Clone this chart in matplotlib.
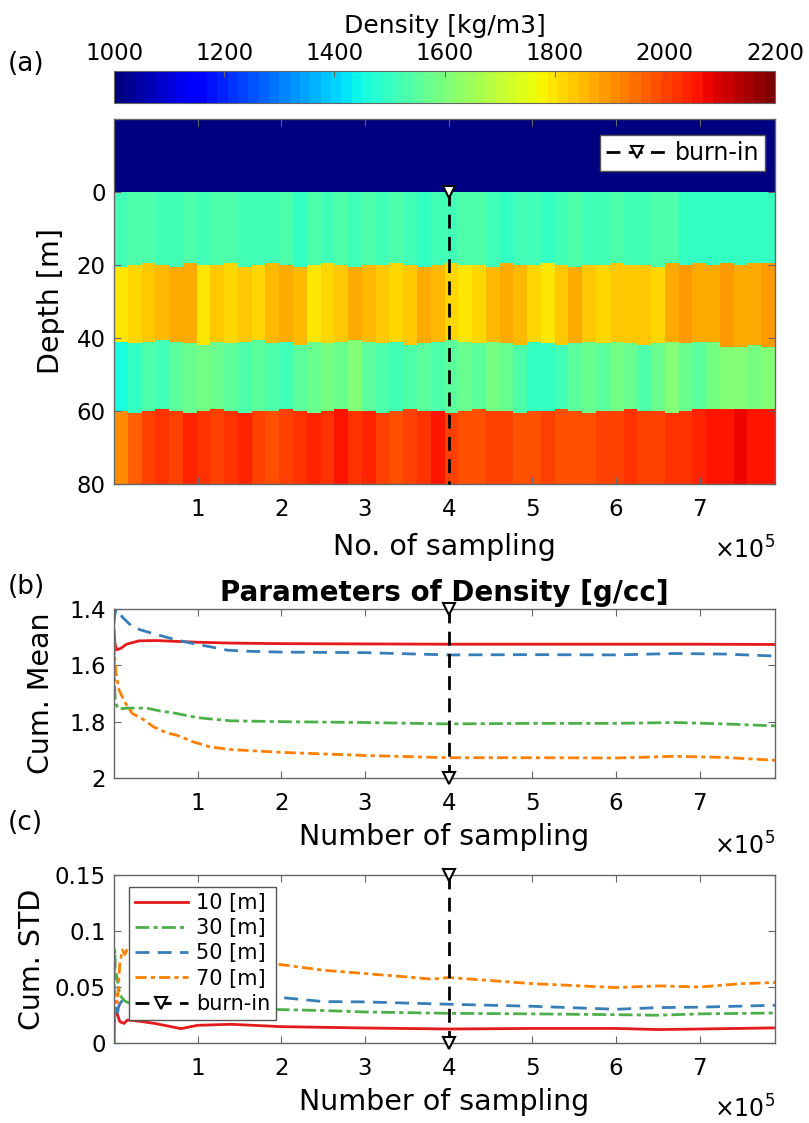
import numpy as np
import matplotlib
matplotlib.use("Agg")
import matplotlib.pyplot as plt

plt.rcParams["font.family"] = ["DejaVu Sans"]
plt.rcParams["mathtext.fontset"] = "dejavusans"

# ---- panel (a): density model per layer, read along the chain (48 chunks) ----
n_total = 790000
air_density = 1000
layer1 = [1515, 1540, 1525, 1510, 1520, 1535, 1515, 1525, 1540, 1520, 1510, 1515, 1525, 1505, 1535, 1520,
          1540, 1515, 1525, 1510, 1535, 1515, 1505, 1520, 1515, 1540, 1525, 1510, 1505, 1520, 1515, 1500,
          1510, 1535, 1520, 1515, 1525, 1510, 1520, 1535, 1540, 1505, 1495, 1500, 1490, 1505, 1495, 1500]
layer2 = [1790, 1810, 1830, 1845, 1870, 1880, 1800, 1840, 1820, 1830, 1815, 1850, 1870, 1860, 1800, 1810,
          1830, 1875, 1860, 1830, 1815, 1840, 1870, 1860, 1810, 1795, 1820, 1855, 1870, 1860, 1820, 1795,
          1840, 1870, 1830, 1810, 1825, 1840, 1830, 1820, 1870, 1885, 1880, 1870, 1890, 1875, 1880, 1885]
layer3 = [1450, 1500, 1530, 1520, 1560, 1580, 1590, 1570, 1550, 1530, 1560, 1540, 1520, 1550, 1580, 1590,
          1570, 1600, 1560, 1530, 1520, 1540, 1560, 1530, 1550, 1580, 1560, 1590, 1570, 1540, 1500, 1490,
          1520, 1550, 1580, 1560, 1590, 1570, 1540, 1580, 1600, 1580, 1560, 1590, 1600, 1610, 1590, 1600]
layer4 = [1910, 1970, 2000, 2030, 2010, 2040, 2020, 2000, 2030, 2040, 2010, 1990, 2000, 2020, 2040, 2020,
          2050, 2030, 2040, 2010, 1990, 2000, 2030, 2050, 2000, 1990, 1980, 2000, 2010, 1990, 1980, 2000,
          1990, 1980, 1990, 2010, 2000, 2020, 2010, 2000, 2030, 2020, 2040, 2050, 2060, 2070, 2060, 2050]
# sampled interface depths [m] for the same chunks
top2 = [20.5, 20, 19.5, 20, 20.5, 19.5, 20, 20, 19.5, 20.5, 20, 19.5, 20, 20.5, 20, 19.5,
        20, 20.5, 20, 20, 19.5, 20, 20.5, 20, 19.5, 20, 20, 20.5, 19.5, 20, 20, 19.5,
        20, 20.5, 20, 20, 19.5, 20, 20, 20.5, 19.5, 20, 19.5, 20, 19.5, 20, 19.5, 19.5]
bottom2 = [41, 41.5, 41, 40.5, 41, 41.5, 42, 41, 41.5, 41, 40.5, 41.5, 41, 42, 41, 41.5,
           41, 40.5, 41, 41.5, 41, 42, 41.5, 41, 40.5, 41, 41.5, 41, 41.5, 42, 41, 41.5,
           42, 41.5, 41, 41.5, 41, 41.5, 42, 41.5, 41, 41.5, 41, 41, 42.5, 42.5, 42, 42.5]
top4 = [60, 60.5, 60, 59.5, 60, 60.5, 60, 59.5, 60, 60.5, 60, 60, 59.5, 60, 60.5, 60,
        59.5, 60, 60, 60.5, 60, 59.5, 60, 60, 60.5, 60, 59.5, 60, 60, 60.5, 60, 60,
        59.5, 60, 60.5, 60, 60, 59.5, 60, 60, 60.5, 60, 59.5, 59.5, 59.5, 59.5, 59.5, 59.5]

burn_in = 400000

# ---- panel (b): cumulative mean [g/cc], x in units of 1e5 samples ----
red_b_x = [0, 0.01, 0.03, 0.08, 0.15, 0.3, 0.5, 0.75, 1.0, 1.4, 2, 3, 4, 5, 6, 7, 7.9]
red_b = [1.475, 1.52, 1.545, 1.54, 1.525, 1.513, 1.512, 1.515, 1.518, 1.521, 1.523, 1.524, 1.525,
         1.525, 1.525, 1.525, 1.526]
green_b_x = [0, 0.005, 0.015, 0.05, 0.15, 0.39, 0.55, 0.75, 1.0, 1.4, 2, 3, 4, 5, 6, 6.7, 7.3, 7.9]
green_b = [1.485, 1.65, 1.73, 1.755, 1.752, 1.752, 1.762, 1.771, 1.786, 1.797, 1.800, 1.803, 1.808,
           1.806, 1.806, 1.803, 1.808, 1.815]
blue_b_x = [0, 0.01, 0.025, 0.11, 0.23, 0.35, 0.5, 0.75, 1.0, 1.15, 1.35, 1.6, 2, 3, 4, 5, 6, 6.7, 7.3, 7.9]
blue_b = [1.45, 1.42, 1.40, 1.432, 1.466, 1.477, 1.49, 1.51, 1.526, 1.534, 1.546, 1.55, 1.553, 1.555,
          1.563, 1.562, 1.563, 1.558, 1.56, 1.567]
orange_b_x = [0, 0.005, 0.024, 0.06, 0.14, 0.22, 0.35, 0.47, 0.63, 0.75, 0.95, 1.15, 1.4, 2, 3, 4, 5, 6,
              6.7, 7.3, 7.9]
orange_b = [1.515, 1.56, 1.628, 1.688, 1.736, 1.771, 1.792, 1.818, 1.84, 1.848, 1.872, 1.89, 1.899, 1.909,
            1.92, 1.928, 1.928, 1.929, 1.923, 1.927, 1.937]

# ---- panel (c): cumulative std [g/cc] ----
red_c_x = [0, 0.005, 0.016, 0.07, 0.12, 0.16, 0.25, 0.5, 0.8, 1.0, 1.4, 2, 3, 4, 5, 6, 6.5, 7, 7.9]
red_c = [0, 0.02, 0.031, 0.019, 0.0175, 0.0205, 0.02, 0.0173, 0.0128, 0.0158, 0.0167, 0.0146, 0.0134,
         0.0125, 0.013, 0.013, 0.012, 0.0125, 0.0135]
green_c_x = [0, 0.01, 0.02, 0.03, 0.07, 0.12, 0.17, 0.5, 1.0, 1.5, 2, 2.5, 3, 4, 5, 6, 6.5, 7, 7.9]
green_c = [0.04, 0.083, 0.056, 0.061, 0.043, 0.038, 0.036, 0.034, 0.032, 0.031, 0.0298, 0.029, 0.0277,
           0.0265, 0.026, 0.0253, 0.0248, 0.026, 0.0268]
blue_c_x = [0, 0.02, 0.04, 0.05, 0.07, 0.12, 0.5, 1.0, 1.5, 2, 2.5, 3, 4, 5, 6, 6.5, 7, 7.9]
blue_c = [0.02, 0.0325, 0.026, 0.031, 0.035, 0.04, 0.045, 0.046, 0.044, 0.0406, 0.037, 0.0367, 0.0346,
          0.0328, 0.0301, 0.0316, 0.032, 0.0337]
orange_c_x = [0, 0.005, 0.02, 0.04, 0.07, 0.1, 0.13, 0.17, 0.5, 1.0, 1.5, 1.95, 2.5, 3, 3.5, 3.8, 4, 5, 6,
              6.5, 7, 7.5, 7.9]
orange_c = [0.0, 0.047, 0.04, 0.036, 0.071, 0.083, 0.079, 0.086, 0.083, 0.078, 0.074, 0.0704, 0.065,
            0.062, 0.059, 0.057, 0.0585, 0.053, 0.0495, 0.051, 0.05, 0.053, 0.054]

depth_labels = ["10 [m]", "30 [m]", "50 [m]", "70 [m]"]
colors = ["#e41a1c", "#4daf4a", "#377eb8", "#ff7f00"]
styles = ["-", (0, (5, 1.5, 1.5, 1.5)), (0, (5, 3)), (0, (4, 1.5, 1.5, 1.5))]

TICK_FS = 16.5
LABEL_FS = 20.5
SPINE = "#666666"


def style_axes(ax):
    ax.tick_params(direction="in", top=True, right=True, labelsize=TICK_FS, length=5,
                   color=SPINE, pad=6)
    ax.tick_params(axis="x", pad=10)
    for s in ax.spines.values():
        s.set_color(SPINE)
        s.set_linewidth(1)
    ax.set_xticks([i * 1e5 for i in range(1, 8)])
    ax.set_xticklabels([str(i) for i in range(1, 8)])
    ax.set_xlim(0, n_total)


def burn_line(ax, y0, y1, both=True):
    line, = ax.plot([burn_in, burn_in], [y0, y1], "--", color="k", lw=2, dashes=(5, 3),
                    marker="v", mfc="white", mec="k", ms=9, mew=1.5,
                    markevery=[0, 1] if both else [0], clip_on=False, zorder=5)
    return line


def density_grid(depth_centres):
    cols = []
    for j in range(len(layer1)):
        col = []
        for d in depth_centres:
            if d < 0:
                col.append(air_density)
            elif d < top2[j]:
                col.append(layer1[j])
            elif d < bottom2[j]:
                col.append(layer2[j])
            elif d < top4[j]:
                col.append(layer3[j])
            else:
                col.append(layer4[j])
        cols.append(col)
    return np.array(cols).T


fig = plt.figure(figsize=(8.09, 11.23), dpi=100)
W, H = 809.0, 1123.0


def box(l, t, r, b):
    return [l / W, 1 - b / H, (r - l) / W, (b - t) / H]


# ---- (a) ----
ax_a = fig.add_axes(box(114, 119, 775, 484))
cax = fig.add_axes(box(114, 71, 775, 103))
x_edges = np.linspace(0, n_total, len(layer1) + 1)
z_edges = np.arange(-20, 80.25, 0.5)
grid = density_grid(0.5 * (z_edges[:-1] + z_edges[1:]))
cmap = plt.get_cmap("jet", 64)
mesh = ax_a.pcolormesh(x_edges, z_edges, grid, cmap=cmap, vmin=1000, vmax=2200, shading="flat")
ax_a.set_ylim(80, -20)
ax_a.set_yticks([0, 20, 40, 60, 80])
style_axes(ax_a)
ax_a.set_xlabel("No. of sampling", fontsize=LABEL_FS, labelpad=9)
ax_a.set_ylabel("Depth [m]", fontsize=LABEL_FS, labelpad=8)
bl = burn_line(ax_a, 0, 80, both=False)
leg = ax_a.legend([bl], ["burn-in"], loc="upper right", bbox_to_anchor=(0.985, 0.956),
                  borderaxespad=0, fontsize=17, fancybox=False, framealpha=1,
                  edgecolor="#555555", handlelength=2.6, handletextpad=0.3, borderpad=0.25)

cb = fig.colorbar(mesh, cax=cax, orientation="horizontal")
cb.set_ticks([1000, 1200, 1400, 1600, 1800, 2000, 2200])
cax.xaxis.set_ticks_position("top")
cax.xaxis.set_label_position("top")
cax.tick_params(direction="in", labelsize=TICK_FS, length=4, color=SPINE, pad=4)
cb.outline.set_edgecolor(SPINE)
cb.set_label("Density [kg/m3]", fontsize=18, labelpad=7)

# ---- (b) ----
ax_b = fig.add_axes(box(114, 609, 775, 778))
series_b = [(red_b_x, red_b), (green_b_x, green_b), (blue_b_x, blue_b), (orange_b_x, orange_b)]
for (xs, ys), c, ls in zip(series_b, colors, styles):
    ax_b.plot(np.array(xs) * 1e5, ys, color=c, linestyle=ls, lw=2)
ax_b.set_ylim(2, 1.4)
ax_b.set_yticks([1.4, 1.6, 1.8, 2])
ax_b.set_yticklabels(["1.4", "1.6", "1.8", "2"])
style_axes(ax_b)
burn_line(ax_b, 1.4, 2)
ax_b.set_title("Parameters of Density [g/cc]", fontsize=20, fontweight="bold", pad=6)
ax_b.set_xlabel("Number of sampling", fontsize=LABEL_FS, labelpad=6)
ax_b.set_ylabel("Cum. Mean", fontsize=LABEL_FS, labelpad=10)

# ---- (c) ----
ax_c = fig.add_axes(box(114, 875, 775, 1043))
series_c = [(red_c_x, red_c), (green_c_x, green_c), (blue_c_x, blue_c), (orange_c_x, orange_c)]
handles = []
for (xs, ys), c, ls, lab in zip(series_c, colors, styles, depth_labels):
    h, = ax_c.plot(np.array(xs) * 1e5, ys, color=c, linestyle=ls, lw=2, label=lab)
    handles.append(h)
ax_c.set_ylim(0, 0.15)
ax_c.set_yticks([0, 0.05, 0.1, 0.15])
ax_c.set_yticklabels(["0", "0.05", "0.1", "0.15"])
style_axes(ax_c)
bc = burn_line(ax_c, 0.15, 0)
handles.append(bc)
ax_c.legend(handles, depth_labels + ["burn-in"], loc="upper left", bbox_to_anchor=(0.023, 0.93),
            borderaxespad=0, fontsize=15, fancybox=False, framealpha=1, edgecolor="#555555",
            handlelength=2.5, handletextpad=0.4, borderpad=0.3, labelspacing=0.25)
ax_c.set_xlabel("Number of sampling", fontsize=LABEL_FS, labelpad=6)
ax_c.set_ylabel("Cum. STD", fontsize=LABEL_FS, labelpad=6)

# exponent labels and panel letters
for yb in (550, 846, 1109):
    fig.text(775 / W, 1 - yb / H, r"$\times10^{5}$", ha="right", va="center", fontsize=17)
for lab, y in (("(a)", 64), ("(b)", 587), ("(c)", 823)):
    fig.text(8 / W, 1 - y / H, lab, ha="left", va="center", fontsize=19)

fig.savefig("out.png", dpi=100)
